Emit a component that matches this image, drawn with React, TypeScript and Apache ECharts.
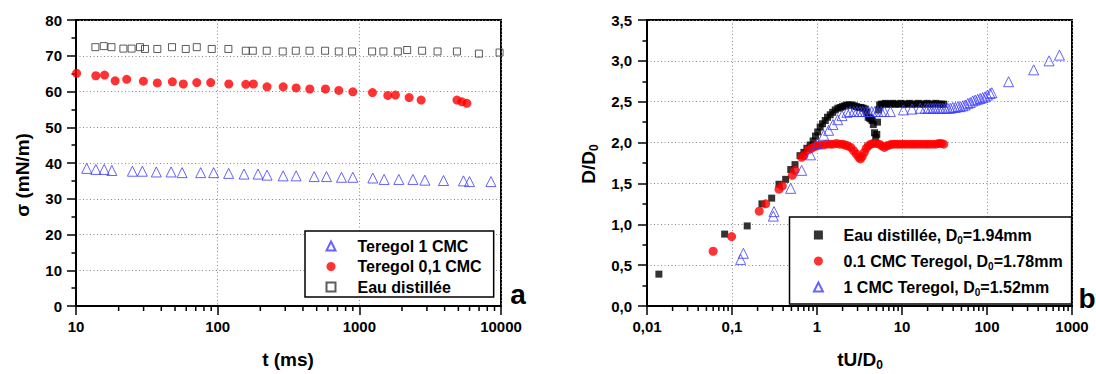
import React, { useEffect, useRef } from "react";
import * as echarts from "echarts";

const FONT = '"Liberation Sans", Arial, Helvetica, sans-serif';

// ---------- Panel a : sigma (mN/m) vs t (ms) ----------
const aXTicks = [10, 100, 1000, 10000];
const aTeregol1T = [11.9, 13.8, 15.8, 17.9, 25.0, 29.4, 36.9, 46.9, 56.1, 75.9, 93.7, 119.6, 153.5, 192.7, 223.2, 289.7, 357.9, 479.9, 586.3, 748.1, 899.5, 1245, 1496, 1900, 2388, 2903, 3929, 5433, 5993, 8490];
const aTeregol1S = [38.5, 38.2, 38.2, 37.9, 37.7, 37.7, 37.5, 37.5, 37.3, 37.3, 37.3, 37.1, 36.9, 36.9, 36.6, 36.4, 36.4, 36.2, 36.2, 36.0, 36.0, 35.8, 35.4, 35.4, 35.4, 35.2, 35.1, 35.0, 34.8, 34.8];
const aTeregol01T = [10.1, 13.8, 15.9, 18.9, 22.8, 29.9, 37.5, 47.9, 57.2, 71.2, 89.3, 119.8, 158, 178.7, 223, 290, 358, 447, 577, 716, 900, 1238, 1589, 1798, 2248, 2731, 4887, 5297, 5744];
const aTeregol01S = [65.1, 64.4, 64.6, 63.0, 63.4, 62.9, 62.4, 62.7, 62.1, 62.5, 62.5, 62.1, 62.0, 62.1, 61.3, 61.3, 61.0, 60.7, 60.7, 60.3, 59.9, 59.7, 58.9, 59.0, 58.3, 57.6, 57.6, 57.1, 56.7];
const aEauT = [13.7, 15.7, 17.8, 21.6, 24.7, 28.3, 30.7, 37.5, 47.6, 59.5, 71.2, 90.8, 119, 158, 177, 222, 288, 356, 445, 573, 716, 889, 1231, 1479, 1870, 2176, 2774, 3565, 4887, 6982, 9772];
const aEauS = [72.4, 72.7, 72.4, 72.0, 72.0, 72.4, 71.9, 71.9, 72.4, 71.9, 72.4, 71.9, 71.9, 71.4, 71.4, 71.4, 71.2, 71.4, 71.4, 71.4, 71.2, 71.2, 71.2, 71.2, 71.2, 71.6, 71.4, 71.2, 71.2, 70.6, 70.9];

// ---------- Panel b : D/D0 vs tU/D0 ----------
const bEauX = [0.0138, 0.082, 0.151, 0.225, 0.293, 0.357, 0.428, 0.491, 0.551, 0.631, 0.70, 0.76, 0.83, 0.90, 0.96, 1.02, 1.09, 1.16, 1.25, 1.33, 1.43, 1.53, 1.64, 1.76, 1.88, 2.0, 2.12, 2.25, 2.4, 2.58, 2.75, 2.92, 3.1, 3.3, 3.5, 3.7, 3.85, 4.0, 4.15, 4.3, 4.45, 4.6, 4.75, 4.9, 5.05, 5.15, 5.3, 5.45, 5.7, 6.0, 6.4, 6.8, 7.3, 7.8, 8.4, 9.0, 9.7, 10.5, 11.3, 12.2, 13.2, 14.3, 15.5, 16.8, 18.2, 19.7, 21.3, 23.0, 25.0, 27.0, 29.2, 31.0];
const bEauY = [0.39, 0.88, 0.98, 1.25, 1.32, 1.49, 1.55, 1.67, 1.73, 1.84, 1.88, 1.93, 1.97, 2.02, 2.08, 2.13, 2.19, 2.23, 2.27, 2.31, 2.34, 2.37, 2.40, 2.42, 2.43, 2.44, 2.45, 2.46, 2.46, 2.46, 2.45, 2.44, 2.43, 2.43, 2.42, 2.41, 2.37, 2.31, 2.30, 2.29, 2.27, 2.22, 2.12, 2.06, 2.10, 2.25, 2.40, 2.46, 2.47, 2.47, 2.48, 2.47, 2.47, 2.48, 2.47, 2.47, 2.48, 2.47, 2.47, 2.48, 2.47, 2.47, 2.48, 2.47, 2.47, 2.48, 2.47, 2.47, 2.48, 2.47, 2.47, 2.47];
const bTer01X = [0.060, 0.099, 0.209, 0.249, 0.357, 0.391, 0.513, 0.551, 0.66, 0.70, 0.79, 0.86, 0.93, 1.0, 1.08, 1.18, 1.3, 1.43, 1.55, 1.7, 1.85, 2.0, 2.15, 2.3, 2.5, 2.7, 2.9, 3.1, 3.25, 3.4, 3.6, 3.8, 4.0, 4.3, 4.6, 5.0, 5.4, 5.8, 6.2, 6.6, 7.1, 7.6, 8.2, 8.8, 9.5, 10.2, 11, 12, 13, 14, 15.2, 16.5, 18, 19.5, 21, 23, 25, 27, 29, 31];
const bTer01Y = [0.67, 0.85, 1.16, 1.25, 1.43, 1.47, 1.60, 1.66, 1.82, 1.84, 1.91, 1.93, 1.95, 1.96, 1.97, 1.97, 1.98, 1.98, 1.98, 1.99, 1.98, 1.98, 1.97, 1.96, 1.94, 1.90, 1.86, 1.82, 1.80, 1.83, 1.88, 1.93, 1.96, 1.98, 1.99, 1.99, 1.98, 1.96, 1.94, 1.96, 1.97, 1.98, 1.98, 1.98, 1.98, 1.98, 1.98, 1.98, 1.98, 1.98, 1.98, 1.98, 1.98, 1.98, 1.98, 1.98, 1.98, 1.99, 1.99, 1.98];
const bTer1X = [0.1265, 0.136, 0.306, 0.312, 0.49, 0.66, 0.84, 1.01, 1.2, 1.37, 1.54, 1.75, 1.97, 2.25, 2.45, 2.7, 2.95, 3.2, 3.45, 3.75, 4.05, 4.4, 4.8, 5.2, 5.7, 6.2, 7.3, 10.4, 13.1, 16.4, 18.8, 20.3, 21.7, 23.2, 24.7, 26.4, 28.2, 30.2, 32.4, 34.6, 37.0, 39.6, 42.4, 45.4, 48.5, 52, 55.5, 59.5, 63.5, 68, 72.6, 77.8, 83.1, 89, 95, 101, 108.7, 114, 179.5, 354, 537, 712];
const bTer1Y = [0.57, 0.645, 1.10, 1.155, 1.44, 1.66, 1.85, 1.99, 2.09, 2.15, 2.22, 2.28, 2.33, 2.37, 2.38, 2.38, 2.38, 2.38, 2.38, 2.38, 2.38, 2.38, 2.38, 2.38, 2.38, 2.38, 2.38, 2.40, 2.41, 2.42, 2.42, 2.42, 2.42, 2.42, 2.42, 2.42, 2.42, 2.42, 2.42, 2.42, 2.42, 2.43, 2.43, 2.44, 2.44, 2.45, 2.46, 2.48, 2.49, 2.51, 2.52, 2.53, 2.54, 2.55, 2.56, 2.58, 2.60, 2.61, 2.745, 2.89, 3.0, 3.07];

const aNames = ["Teregol 1 CMC", "Teregol 0,1 CMC", "Eau distillée"];
const bNames = ["Eau distillée, D0=1.94mm", "0.1 CMC Teregol, D0=1.78mm", "1 CMC Teregol, D0=1.52mm"];

const zip = (xs: number[], ys: number[]) => xs.map((x, i) => [x, ys[i]]);

// minor tick positions of a log axis (2..9 in each decade)
const logMinor = (e0: number, e1: number) => {
  const out: number[][] = [];
  for (let e = e0; e < e1; e++) for (let k = 2; k < 10; k++) out.push([k * Math.pow(10, e), 0]);
  return out;
};

const BLUE = "#3c3cff";
const RED = "#ff0000";
const HOLLOW = "rgba(255,255,255,0)";

export default function App() {
  const ref = useRef<HTMLDivElement>(null);
  useEffect(() => {
    if (!ref.current) return;
    const chart = echarts.init(ref.current, null, { renderer: "svg" });

    const axisLine = { show: true, onZero: false, lineStyle: { color: "#000", width: 2 } };
    const axisTick = { show: true, inside: false, length: 9, lineStyle: { color: "#000", width: 1.5 } };
    const splitLine = { show: true, lineStyle: { color: "#8a8a8a", width: 1, type: [1, 2.5] } };
    const lbl = (margin: number, formatter: any) => ({
      color: "#000", fontFamily: FONT, fontWeight: "bold", fontSize: 15, margin, formatter,
    });
    const minorY = { show: true, splitNumber: 2, length: 4.5, lineStyle: { color: "#000", width: 1.5 } };

    const tickSeries = (idx: number, data: number[][]) => ({
      type: "custom", name: "minor" + idx, xAxisIndex: idx, yAxisIndex: idx, silent: true, clip: false,
      data,
      renderItem: (_p: any, api: any) => {
        const p = api.coord([api.value(0), 0]);
        return { type: "line", shape: { x1: p[0], y1: p[1], x2: p[0], y2: p[1] + 5 }, style: { stroke: "#000", lineWidth: 1.5 } };
      },
    });

    const legendText = { color: "#000", fontFamily: FONT, fontWeight: "bold", fontSize: 16 };

    chart.setOption({
      animation: false,
      backgroundColor: "#fff",
      grid: [
        { left: 76, top: 20, width: 425, height: 286, show: true, borderColor: "#000", borderWidth: 2, backgroundColor: "transparent" },
        { left: 647, top: 20, width: 425, height: 286, show: true, borderColor: "#000", borderWidth: 2, backgroundColor: "transparent" },
      ],
      xAxis: [
        { type: "log", logBase: 10, gridIndex: 0, min: aXTicks[0], max: aXTicks[aXTicks.length - 1], axisLine, axisTick, splitLine, axisLabel: lbl(13, (v: number) => String(Math.round(v))) },
        { type: "log", logBase: 10, gridIndex: 1, min: 0.01, max: 1000, axisLine, axisTick, splitLine, axisLabel: lbl(13, (v: number) => String(parseFloat(v.toPrecision(4))).replace(".", ",")) },
      ],
      yAxis: [
        { type: "value", gridIndex: 0, min: 0, max: 80, interval: 10, axisLine, axisTick, minorTick: minorY, splitLine, axisLabel: lbl(14, (v: number) => String(v)) },
        { type: "value", gridIndex: 1, min: 0, max: 3.5, interval: 0.5, axisLine, axisTick, minorTick: minorY, splitLine, axisLabel: lbl(15, (v: number) => v.toFixed(1).replace(".", ",")) },
      ],
      legend: [
        {
          data: aNames, orient: "vertical", left: 305, top: 231, padding: [6, 12, 1, 20.5], itemGap: 2.5,
          itemWidth: 9, itemHeight: 9, symbolKeepAspect: true, borderColor: "#000", borderWidth: 1.5, backgroundColor: "#fff", selectedMode: false,
          formatter: (name: string) => `{t|${name}}`,
          textStyle: { ...legendText, lineHeight: 18, rich: { t: { ...legendText, lineHeight: 18, padding: [0, 0, 0, 17] } } },
        },
        {
          data: bNames, orient: "vertical", left: 789.5, top: 217, padding: [8, 9, 7, 23.4], itemGap: 6,
          itemWidth: 9, itemHeight: 9, symbolKeepAspect: true, borderColor: "#000", borderWidth: 1.5, backgroundColor: "#fff", selectedMode: false,
          formatter: (name: string) => {
            const [p, q] = name.split("D0");
            return `{f|${p}D}{s|0}{t|${q}}`;
          },
          textStyle: {
            ...legendText,
            rich: {
              f: { ...legendText, lineHeight: 20, padding: [0, 0, 0, 15.6] },
              t: { ...legendText, lineHeight: 20 },
              s: { ...legendText, fontSize: 10, lineHeight: 10, padding: [10, 0, 0, 0] },
            },
          },
        },
      ],
      graphic: [
        { type: "text", x: 288, y: 359, style: { text: "t (ms)", fill: "#000", font: `bold 19px ${FONT}`, align: "center", verticalAlign: "middle" } },
        { type: "text", x: 22, y: 175, rotation: Math.PI / 2, style: { text: "σ (mN/m)", fill: "#000", font: `bold 19px ${FONT}`, align: "center", verticalAlign: "middle" } },
        {
          type: "text", x: 860, y: 359,
          style: {
            text: "{m|tU/D}{s|0}", align: "center", verticalAlign: "middle",
            rich: { m: { fill: "#000", font: `bold 19px ${FONT}`, lineHeight: 22 }, s: { fill: "#000", font: `bold 12px ${FONT}`, lineHeight: 12, padding: [12, 0, 0, 0] } },
          },
        },
        {
          type: "text", x: 588, y: 164, rotation: Math.PI / 2,
          style: {
            text: "{m|D/D}{s|0}", align: "center", verticalAlign: "middle",
            rich: { m: { fill: "#000", font: `bold 19px ${FONT}`, lineHeight: 22 }, s: { fill: "#000", font: `bold 12px ${FONT}`, lineHeight: 12, padding: [12, 0, 0, 0] } },
          },
        },
        { type: "text", x: 518, y: 294, style: { text: "a", fill: "#000", font: `bold 28px ${FONT}`, align: "center", verticalAlign: "middle" } },
        { type: "text", x: 1087, y: 298, style: { text: "b", fill: "#000", font: `bold 28px ${FONT}`, align: "center", verticalAlign: "middle" } },
      ],
      series: [
        { type: "scatter", name: aNames[0], xAxisIndex: 0, yAxisIndex: 0, symbol: "triangle", symbolSize: 10, data: zip(aTeregol1T, aTeregol1S), itemStyle: { color: HOLLOW, borderColor: BLUE, borderWidth: 1 } },
        { type: "scatter", name: aNames[1], xAxisIndex: 0, yAxisIndex: 0, symbol: "circle", symbolSize: 9, data: zip(aTeregol01T, aTeregol01S), itemStyle: { color: RED } },
        { type: "scatter", name: aNames[2], xAxisIndex: 0, yAxisIndex: 0, symbol: "rect", symbolSize: 7, data: zip(aEauT, aEauS), itemStyle: { color: HOLLOW, borderColor: "#333", borderWidth: 1 } },
        { type: "scatter", name: bNames[0], xAxisIndex: 1, yAxisIndex: 1, symbol: "rect", symbolSize: 7, data: zip(bEauX, bEauY), itemStyle: { color: "#000" } },
        { type: "scatter", name: bNames[1], xAxisIndex: 1, yAxisIndex: 1, symbol: "circle", symbolSize: 9, data: zip(bTer01X, bTer01Y), itemStyle: { color: RED } },
        { type: "scatter", name: bNames[2], xAxisIndex: 1, yAxisIndex: 1, symbol: "triangle", symbolSize: 10, data: zip(bTer1X, bTer1Y), itemStyle: { color: HOLLOW, borderColor: BLUE, borderWidth: 1 } },
        tickSeries(0, logMinor(1, 4)),
        tickSeries(1, logMinor(-2, 3)),
      ],
    });
    return () => chart.dispose();
  }, []);
  return <div ref={ref} style={{ position: "absolute", left: 0, top: 0, width: 1096, height: 374 }} />;
}
